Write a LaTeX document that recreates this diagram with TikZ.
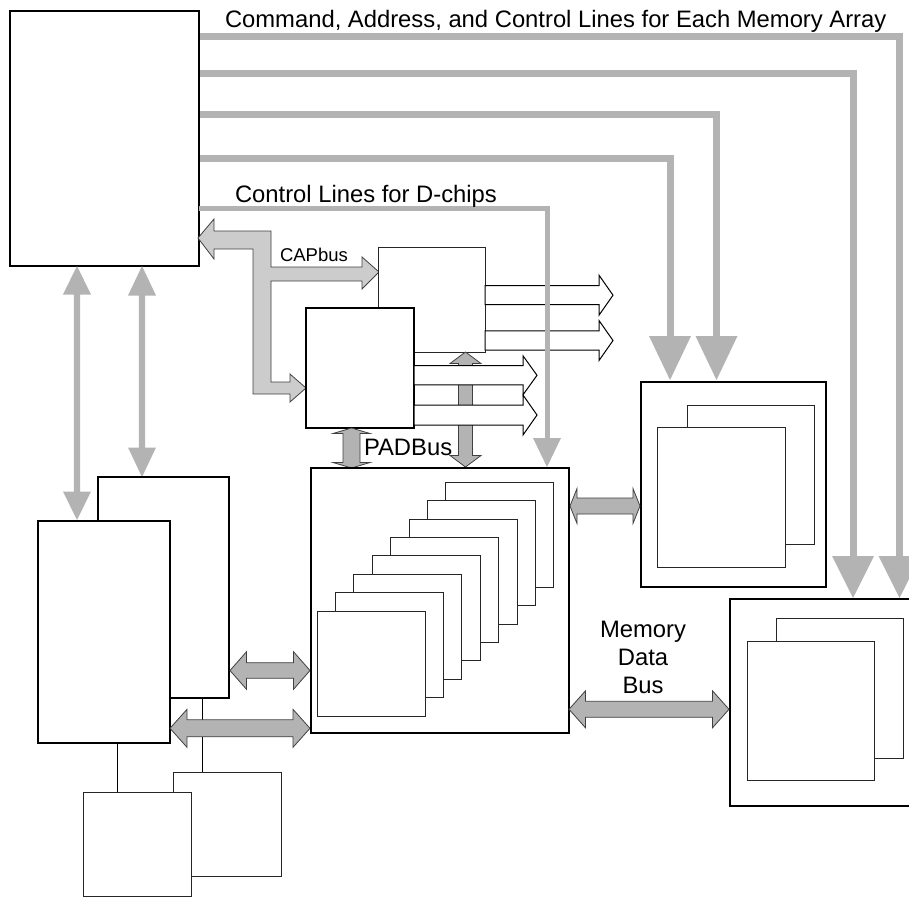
\documentclass[tikz,border=0pt]{standalone}
\usepackage{fontspec}
\setmainfont{Liberation Sans}
\definecolor{bus}{RGB}{179,179,179}
\definecolor{capfill}{RGB}{204,204,204}
\definecolor{edgegray}{RGB}{64,64,64}
\tikzset{
  mainbox/.style={draw=black, line width=2pt, fill=white},
  thinbox/.style={draw=black!85, line width=1pt, fill=white},
  busline/.style={draw=bus, line width=7pt, line join=miter},
  thinbus/.style={draw=bus, line width=5pt, line join=miter},
  bushead/.style={fill=bus},
  darrow/.style={fill=bus, draw=edgegray, line width=0.8pt, line join=miter},
  caparrow/.style={fill=capfill, draw=edgegray, line width=0.8pt, line join=miter},
  warrow/.style={fill=white, draw=black, line width=1pt, line join=miter},
  leftbus/.style={fill=bus},
  lbl/.style={font=\fontsize{23.8}{28}\selectfont, inner sep=0pt, outer sep=0pt},
  lblsmall/.style={font=\fontsize{18.5}{22}\selectfont, inner sep=0pt, outer sep=0pt},
}
% box node: name, style, x1, y1, x2, y2
\newcommand\boxat[6]{\node[#2,anchor=north west,inner sep=0pt,outer sep=0pt,minimum width={(#5-#3)*1pt},minimum height={(#6-#4)*1pt}] (#1) at (#3,#4) {};}
% horizontal double arrow: style, x1, x2, y, shaft half, head half, head length
\newcommand\hdbl[7][]{\path[#1] (#2,#4) -- ({#2+#7},{#4-#6}) -- ({#2+#7},{#4-#5}) -- ({#3-#7},{#4-#5}) -- ({#3-#7},{#4-#6}) -- (#3,#4) -- ({#3-#7},{#4+#6}) -- ({#3-#7},{#4+#5}) -- ({#2+#7},{#4+#5}) -- ({#2+#7},{#4+#6}) -- cycle;}
% vertical double arrow: style, x, y1, y2, shaft half, head half, head length
\newcommand\vdbl[7][]{\path[#1] (#2,#3) -- ({#2+#6},{#3+#7}) -- ({#2+#5},{#3+#7}) -- ({#2+#5},{#4-#7}) -- ({#2+#6},{#4-#7}) -- (#2,#4) -- ({#2-#6},{#4-#7}) -- ({#2-#5},{#4-#7}) -- ({#2-#5},{#3+#7}) -- ({#2-#6},{#3+#7}) -- cycle;}
% horizontal single arrow: style, x1, x2, y, shaft half, head half, head length
\newcommand\hsgl[7][]{\path[#1] (#2,{#4-#5}) -- ({#3-#7},{#4-#5}) -- ({#3-#7},{#4-#6}) -- (#3,#4) -- ({#3-#7},{#4+#6}) -- ({#3-#7},{#4+#5}) -- (#2,{#4+#5}) -- cycle;}

\begin{document}
\begin{tikzpicture}[x=1pt,y=-1pt]
\useasboundingbox (0,0) rectangle (909,897);
\clip (0,0) rectangle (909,897);

% command / address / control lines
\draw[busline] (199,36.5) -- (899.5,36.5) -- (899.5,557);
\fill[bushead] (878.5,556) -- (920.5,556) -- (899.5,598) -- cycle;
\draw[busline] (199,73.5) -- (853,73.5) -- (853,557);
\fill[bushead] (832,556) -- (874,556) -- (853,598) -- cycle;
\draw[busline] (199,114) -- (716.5,114) -- (716.5,337);
\fill[bushead] (695.5,336) -- (737.5,336) -- (716.5,380) -- cycle;
\draw[busline] (199,158.5) -- (670,158.5) -- (670,337);
\fill[bushead] (649,336) -- (691,336) -- (670,380) -- cycle;

% controller
\boxat{ctrl}{mainbox}{10}{11}{199}{266}

% vertical links controller <-> lower-left chips
\vdbl[leftbus]{77}{266}{520}{3.2}{14}{28.5}
\vdbl[leftbus]{142}{266}{477}{3.2}{14}{29.5}

% lower-left chips
\boxat{llback}{mainbox}{98}{477}{229}{698}
\boxat{llfront}{mainbox}{38}{521}{170}{743}
\draw[line width=1pt] (202,698) -- (202,772);
\draw[line width=1pt] (117,743) -- (117,792);
\boxat{smback}{thinbox}{173}{772}{281}{876}
\boxat{smfront}{thinbox}{83}{792}{191}{896}

% links lower-left -> data array
\hdbl[darrow]{230}{310}{670.5}{7.8}{18.8}{16.5}
\hdbl[darrow]{170}{310}{728.3}{8.5}{19}{17}

% CAPbus
\path[caparrow] (198,238) -- (214,219) -- (214,231) -- (271,231) -- (271,267) -- (362,267) -- (362,257) -- (379,272) -- (362,289) -- (362,281) -- (271,281) -- (271,382) -- (290,382) -- (290,374) -- (306,388) -- (290,402) -- (290,394) -- (253,394) -- (253,249) -- (214,249) -- (214,259) -- cycle;

% D-chips
\boxat{dback}{thinbox}{378}{247}{485}{352}
\boxat{dfront}{draw=black, line width=1.6pt, fill=white}{306}{308}{414}{428}

% vertical link back D-chip <-> array
\vdbl[darrow]{465.5}{352}{467}{7}{15.5}{11.5}

% D-chip outputs
\hsgl[warrow]{485}{613}{295.2}{9.5}{20}{14}
\hsgl[warrow]{485}{613}{340.5}{9.7}{20}{14}
\hsgl[warrow]{414}{537}{375.3}{9.6}{19.5}{14}
\hsgl[warrow]{414}{537}{415}{10}{20}{14}

% control lines for D-chips
\draw[thinbus] (199,208) -- (547,208) -- (547,439);
\fill[bushead] (533,438) -- (561,438) -- (547,467) -- cycle;

% PADBus
\vdbl[darrow]{351.5}{428}{468}{8.5}{18.5}{5.5}

% central data array
\boxat{array}{mainbox}{311}{468}{569}{733}
\foreach \i in {7,...,0}{
  \draw[thinbox] ({317+18.4*\i},{611-18.4*\i}) rectangle ++(108,105);
}

% memory array 1
\boxat{mem1}{mainbox}{641}{382}{826}{587}
\boxat{mem1b}{thinbox}{687}{405}{814}{544}
\boxat{mem1f}{thinbox}{657}{427}{785}{567}

% memory array 2
\boxat{mem2}{mainbox}{730}{599}{935}{806}
\boxat{mem2b}{thinbox}{776}{618}{903}{758}
\boxat{mem2f}{thinbox}{747}{641}{874}{780}

% data links
\hdbl[darrow]{570}{640}{506}{8}{17.5}{7}
\hdbl[darrow]{569}{729}{709.3}{8}{18.5}{16.5}

% labels
\node[lbl, anchor=base west] (cmdlbl) at (225,27) {Command, Address, and Control Lines for Each Memory Array};
\node[lbl, anchor=base west] (ctllbl) at (235,202) {Control Lines for D-chips};
\node[lblsmall, anchor=base west] (caplbl) at (280,261) {CAPbus};
\node[lbl, anchor=base west] (padlbl) at (364,455) {PADBus};
\node[lbl, align=center, anchor=base] (mdblbl) at (643,693) {Memory\\Data\\Bus};
\end{tikzpicture}
\end{document}
